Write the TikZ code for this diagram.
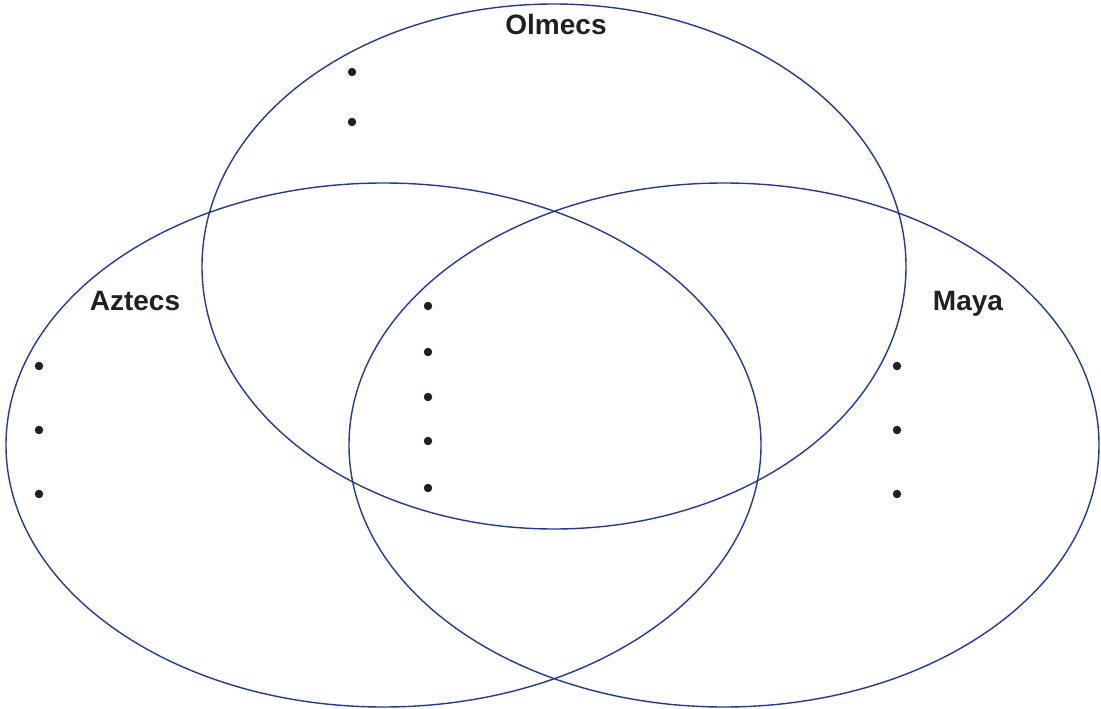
\documentclass[tikz,border=0pt]{standalone}
\usepackage{fontspec}
\setmainfont{Liberation Sans}
\definecolor{ring}{HTML}{1F3A99}
\definecolor{ink}{HTML}{231F20}
\tikzset{
  ring/.style={draw=ring, line width=1.4pt},
  lbl/.style={anchor=base, text=ink, font=\fontsize{28}{32}\selectfont\bfseries, inner sep=0pt},
  dot/.style={circle, fill=ink, minimum size=8.5pt, inner sep=0pt}
}
\begin{document}
\begin{tikzpicture}[x=1pt,y=-1pt]
\useasboundingbox (0,0) rectangle (1101,709);
\draw[ring] (554,266.5) ellipse [x radius=352, y radius=262.5];
\draw[ring] (383.5,445) ellipse [x radius=377.5, y radius=262];
\draw[ring] (724,445) ellipse [x radius=375, y radius=262];
\node[lbl] (olmecs) at (556,34.5) {Olmecs};
\node[lbl] (aztecs) at (135,310) {Aztecs};
\node[lbl] (maya) at (968,310) {Maya};
\foreach \y [count=\i] in {72,122} \node[dot] (o\i) at (352,\y) {};
\foreach \y [count=\i] in {306,352,397,441,488} \node[dot] (c\i) at (428,\y) {};
\foreach \y [count=\i] in {366,430,494} \node[dot] (a\i) at (39,\y) {};
\foreach \y [count=\i] in {366,430,494} \node[dot] (m\i) at (897,\y) {};
\end{tikzpicture}
\end{document}
